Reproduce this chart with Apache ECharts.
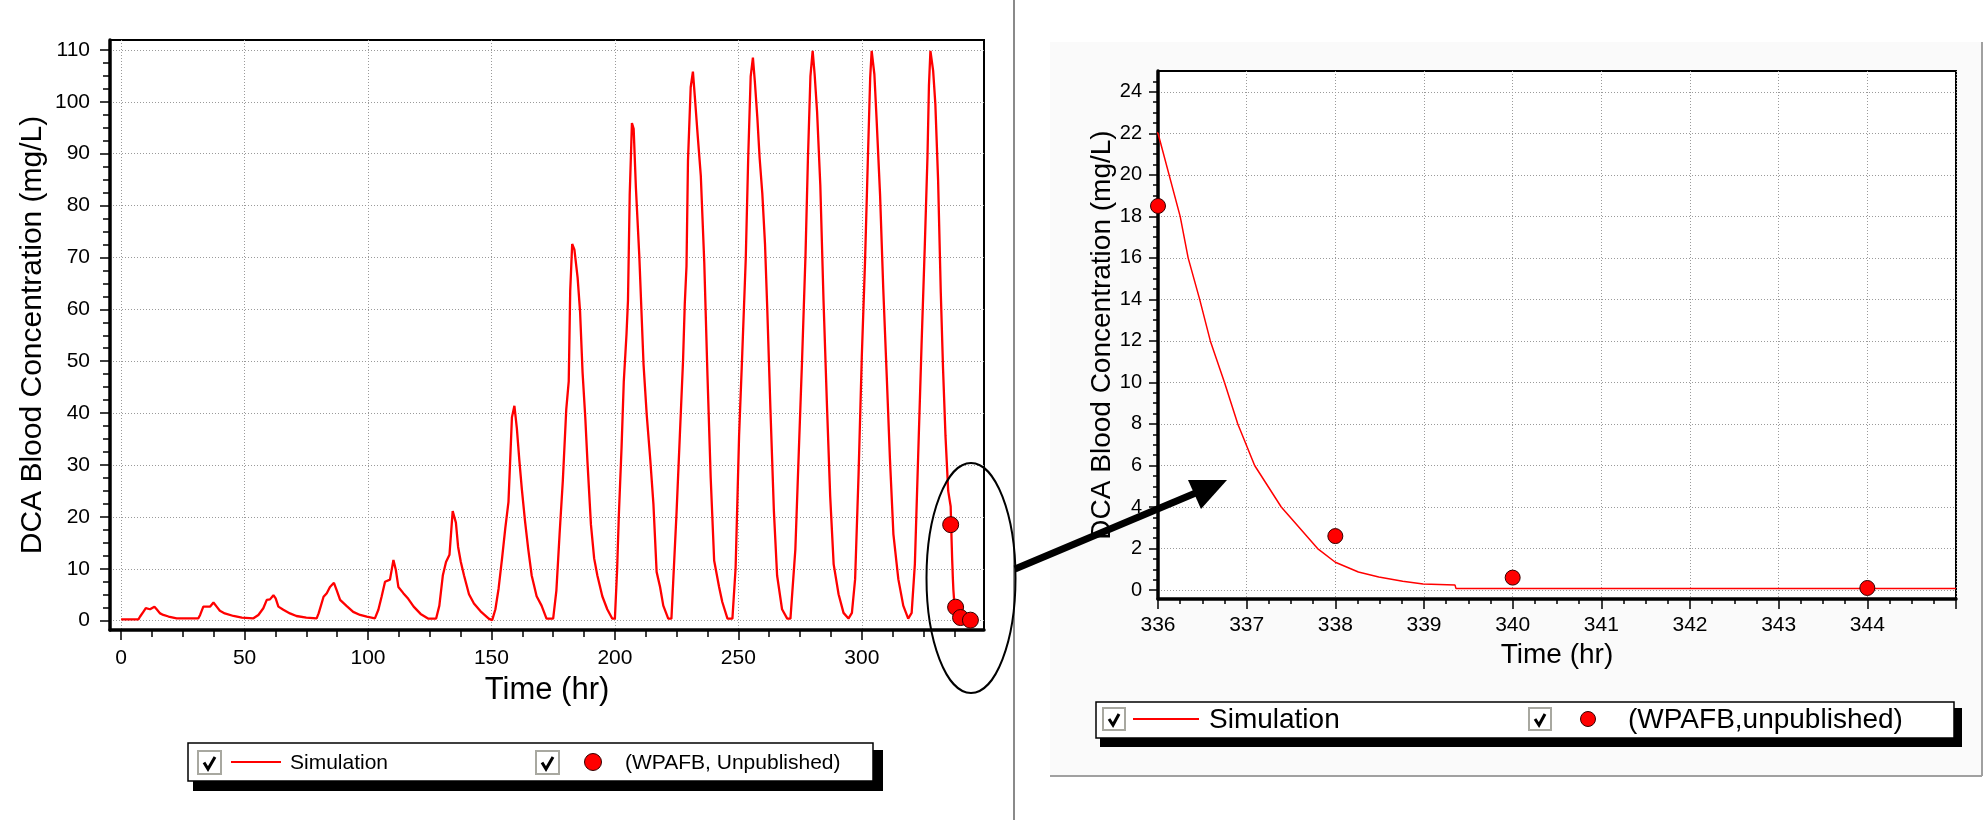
<!DOCTYPE html>
<html><head><meta charset="utf-8">
<script src="https://cdn.jsdelivr.net/npm/echarts@6/dist/echarts.min.js"></script>
<style>html,body{margin:0;padding:0;background:#fff}#c{width:1988px;height:820px}</style>
</head><body><div id="c"></div>
<script>
// ---- data ----
const simTime = [
 0, 7, 7.7, 9, 10, 11.7, 13.5, 14.4, 15.8, 17.1, 19.2, 22.5, 31.3,
 32, 33.3, 36, 37.4, 38.7, 40, 42, 45.5, 48.9, 53.6,
 55.6, 57.6, 59, 60.3, 61.7, 62.6, 63.7, 65.7, 68.4, 71, 75, 79.2,
 80, 82, 83.3, 84.6, 86.2, 87.3, 88.7, 91.4, 94, 96.8, 99.5, 102.8,
 104.2, 105.5, 106.9, 108.9, 110.3, 111.3, 112.3, 114.3, 116.3, 118.5, 121.3, 124.3, 127.6,
 128.9, 130.3, 131.6, 133, 134.3, 135.6, 136.5, 137.6, 138.9, 140.9, 142.9, 145.6, 148.9, 150.3,
 151.6, 152.9, 154.3, 155.6, 156.9, 158.3, 159.3, 160.3, 161.3, 162.3, 163.6, 164.9, 166.3, 168.3, 170.3, 172.3, 175,
 176.3, 177.6, 178.9, 180.3, 181.3, 181.9, 182.7, 183.6, 184.9, 185.9, 186.9, 188, 188.9, 190.3, 191.6, 192.9, 194.9, 196.9, 198.9, 200,
 200.9, 201.6, 202.7, 203.6, 204.7, 205.3, 206, 206.9, 207.6, 208.5, 209.9, 211.6, 212.9, 214.3, 215.6, 216.9, 218.3, 219.6, 221.6, 222.9,
 223.6, 225, 226.3, 227.6, 228.3, 229, 229.6, 230.7, 231.6, 232.5, 233.5, 234.8, 236.2, 237.5, 238.8, 240.2, 242.2, 243.5, 245.6, 247.6,
 248.9, 250.3, 251.6, 253, 254, 255, 255.9, 256.7, 257.7, 258.6, 259.7, 260.8, 261.7, 263, 264.4, 265.7, 267.7, 269.8, 271.1,
 273.1, 274.5, 275.8, 277.2, 278.2, 279.2, 280.1, 280.9, 281.9, 283.2, 284.5, 285.9, 287.2, 288.6, 290.6, 292.6, 294.6, 296,
 297.3, 298.7, 300, 301.3, 302.4, 303.4, 304, 305.1, 306, 307.4, 308.7, 310.1, 311.4, 312.8, 314.8, 316.8, 318.8, 320.2,
 321.5, 322.8, 324.2, 325.5, 326.6, 327.2, 327.8, 328.9, 329.8, 330.9, 332, 332.9, 333.9, 335,
 336, 336.25, 336.34, 336.47, 336.59, 336.75, 336.9, 337.09, 337.39, 337.8, 338, 338.26, 338.49, 338.76, 338.99, 339.35, 339.36, 345
];
const simConc = [
 0.25, 0.25, 0.8, 1.7, 2.4, 2.2, 2.7, 2.2, 1.4, 1.1, 0.8, 0.45, 0.45,
 1.1, 2.7, 2.7, 3.5, 2.7, 1.9, 1.4, 0.9, 0.6, 0.45,
 1.1, 2.4, 4.0, 4.1, 4.9, 4.3, 2.7, 2.1, 1.4, 0.9, 0.6, 0.45,
 1.4, 4.6, 5.3, 6.5, 7.3, 5.9, 4.0, 2.8, 1.7, 1.1, 0.8, 0.45,
 2.1, 4.6, 7.5, 7.9, 11.7, 9.7, 6.5, 5.3, 4.2, 2.7, 1.3, 0.4, 0.4,
 2.9, 8.7, 11.3, 12.7, 21.1, 18.9, 14.2, 11.3, 8.7, 5.1, 3.3, 1.8, 0.4, 0.1,
 2.2, 6.2, 12, 17.8, 22.9, 39.2, 41.4, 37, 30.9, 25.4, 19.2, 13.8, 8.7, 4.7, 2.9, 0.4, 0.4,
 5.8, 16.7, 26.9, 40.7, 46.1, 63.5, 72.6, 71.5, 66.1, 59.5, 47.9, 39.2, 30.5, 18.5, 12, 8.7, 4.7, 2.2, 0.4, 0.4,
 9.8, 20.3, 33.4, 46.1, 55.2, 61.7, 82, 95.9, 94.8, 83.5, 70.1, 49.4, 39.6, 31.2, 22.5, 9.4, 6.5, 2.9, 0.4, 0.4,
 7.3, 21.1, 35.6, 50.1, 61, 68.3, 88.6, 102.8, 105.8, 100.2, 93.7, 85.7, 69, 47.2, 27.6, 11.6, 6.5, 3.6, 0.4, 0.4,
 10.2, 35.6, 51.6, 69.7, 89.3, 104.9, 108.5, 103.8, 96.9, 89.3, 82.4, 72.6, 60.3, 40.7, 21.1, 8.7, 2.2, 0.4, 0.4,
 13.8, 32.7, 50.1, 70.4, 89.3, 104.9, 109.8, 105.3, 98, 83.9, 61.7, 41.4, 24, 10.9, 5.1, 1.5, 0.4, 1.5,
 8, 28.3, 50.8, 69, 87.9, 104.6, 109.8, 105.3, 96.6, 82.1, 63.9, 47.2, 31.2, 16.7, 8, 2.9, 0.4, 1.5,
 10.9, 31.2, 53, 71.9, 89.3, 103.1, 109.8, 106, 99.5, 85, 63.2, 48.7, 35.6, 25,
 22, 18, 16, 14, 12, 10, 8, 6, 4, 2, 1.34, 0.87, 0.63, 0.43, 0.29, 0.24, 0.08, 0.08
];
const obsTime = [336, 338, 340, 344];
const obsConc = [18.5, 2.6, 0.6, 0.1];

// tick labels / tick positions
const leftXLabels = [0, 50, 100, 150, 200, 250, 300];
const leftXMinorTicks = [0, 12.5, 25, 37.5, 50, 62.5, 75, 87.5, 100, 112.5, 125, 137.5, 150, 162.5, 175, 187.5, 200, 212.5, 225, 237.5, 250, 262.5, 275, 287.5, 300, 312.5, 325, 337.5];
const leftYLabels = [0, 10, 20, 30, 40, 50, 60, 70, 80, 90, 100, 110];
const leftYMinorTicks = [0, 2.5, 5, 7.5, 10, 12.5, 15, 17.5, 20, 22.5, 25, 27.5, 30, 32.5, 35, 37.5, 40, 42.5, 45, 47.5, 50, 52.5, 55, 57.5, 60, 62.5, 65, 67.5, 70, 72.5, 75, 77.5, 80, 82.5, 85, 87.5, 90, 92.5, 95, 97.5, 100, 102.5, 105, 107.5, 110];
const rightYLabels = [0, 2, 4, 6, 8, 10, 12, 14, 16, 18, 20, 22, 24];
const rightYMinorTicks = [0, 0.5, 1, 1.5, 2, 2.5, 3, 3.5, 4, 4.5, 5, 5.5, 6, 6.5, 7, 7.5, 8, 8.5, 9, 9.5, 10, 10.5, 11, 11.5, 12, 12.5, 13, 13.5, 14, 14.5, 15, 15.5, 16, 16.5, 17, 17.5, 18, 18.5, 19, 19.5, 20, 20.5, 21, 21.5, 22, 22.5, 23, 23.5, 24, 24.5];

const xTitle = 'Time (hr)';
const yTitle = 'DCA Blood Concentration (mg/L)';
const simName = 'Simulation';
const obsNameLeft = '(WPAFB, Unpublished)';
const obsNameRight = '(WPAFB,unpublished)';

// ---- build ----
const FONT = '"Liberation Sans", Arial, Helvetica, sans-serif';
const simData = simTime.map((t, i) => [t, simConc[i]]);
const obsData = obsTime.map((t, i) => [t, obsConc[i]]);
const GRIDLINE = { color: '#9a9a9a', width: 1, type: [1, 2] };
const TICK = { color: '#000', width: 1.5 };
const AXLINE = { color: '#000', width: 3.5 };

function legend(c) {
  const els = [];
  els.push({ type: 'rect', z: 50, shape: { x: c.sx, y: c.sy, width: c.sw, height: c.sh }, style: { fill: '#000' } });
  els.push({ type: 'rect', z: 51, shape: { x: c.bx, y: c.by, width: c.bw, height: c.bh }, style: { fill: '#fff', stroke: '#000', lineWidth: 1.5 } });
  [c.cb1, c.cb2].forEach(x => {
    els.push({ type: 'rect', z: 52, shape: { x: x, y: c.cby, width: c.cs, height: c.cs }, style: { fill: '#fff', stroke: '#a8a8a0', lineWidth: 2 } });
    els.push({ type: 'polyline', z: 53, shape: { points: [[x + 6, c.cby + c.cs * 0.5], [x + 10, c.cby + c.cs - 5], [x + c.cs - 6, c.cby + 6]] }, style: { stroke: '#000', lineWidth: 3, fill: 'none' } });
  });
  els.push({ type: 'line', z: 52, shape: { x1: c.l1, y1: c.cy, x2: c.l2, y2: c.cy }, style: { stroke: '#ff0000', lineWidth: 2 } });
  els.push({ type: 'circle', z: 52, shape: { cx: c.dx, cy: c.cy, r: c.dr }, style: { fill: '#ff0000', stroke: '#300', lineWidth: 1 } });
  els.push({ type: 'text', z: 52, style: { text: simName, x: c.t1, y: c.cy + 1, font: c.fs + 'px ' + FONT, fill: '#000', textAlign: 'left', textVerticalAlign: 'middle' } });
  els.push({ type: 'text', z: 52, style: { text: c.obsName, x: c.t2, y: c.cy + 1, font: c.fs + 'px ' + FONT, fill: '#000', textAlign: 'left', textVerticalAlign: 'middle' } });
  return els;
}

const graphicEls = [
  { type: 'rect', z: -10, shape: { x: 1050, y: 42, width: 932, height: 734 }, style: { fill: '#fafafa' } },
  { type: 'line', z: -9, shape: { x1: 1050, y1: 776, x2: 1982, y2: 776 }, style: { stroke: '#a0a0a0', lineWidth: 2 } },
  { type: 'line', z: -9, shape: { x1: 1982, y1: 42, x2: 1982, y2: 776 }, style: { stroke: '#a0a0a0', lineWidth: 2 } },
  { type: 'line', z: -9, shape: { x1: 1014, y1: 0, x2: 1014, y2: 820 }, style: { stroke: '#8a8a8a', lineWidth: 2 } },
  { type: 'ellipse', z: 100, shape: { cx: 971, cy: 578, rx: 44.5, ry: 115 }, style: { fill: 'none', stroke: '#000', lineWidth: 2 } },
  { type: 'line', z: 100, shape: { x1: 1015, y1: 569, x2: 1198, y2: 492 }, style: { stroke: '#000', lineWidth: 7 } },
  { type: 'polygon', z: 100, shape: { points: [[1227, 480], [1188, 480], [1201, 509]] }, style: { fill: '#000' } }
].concat(legend({
  sx: 193, sy: 750, sw: 690, sh: 41, bx: 188, by: 743, bw: 685, bh: 38,
  cb1: 198, cb2: 536, cby: 751, cs: 23, cy: 762, l1: 231, l2: 281, dx: 593, dr: 8.5,
  t1: 290, t2: 625, fs: 21, obsName: obsNameLeft
})).concat(legend({
  sx: 1100, sy: 708, sw: 862, sh: 39, bx: 1096, by: 702, bw: 858, bh: 36,
  cb1: 1103, cb2: 1529, cby: 708, cs: 22, cy: 719, l1: 1133, l2: 1199, dx: 1588, dr: 7.5,
  t1: 1209, t2: 1628, fs: 28, obsName: obsNameRight
}));

const chart = echarts.init(document.getElementById('c'), null, { renderer: 'canvas' });
chart.setOption({
  animation: false,
  backgroundColor: '#ffffff',
  textStyle: { fontFamily: FONT },
  grid: [
    { left: 110, top: 40, width: 874, height: 590, show: true, borderColor: '#000', borderWidth: 2, backgroundColor: '#ffffff' },
    { left: 1158, top: 71, width: 798, height: 528, show: true, borderColor: '#000', borderWidth: 2, backgroundColor: '#ffffff' }
  ],
  xAxis: [
    { gridIndex: 0, type: 'value', position: 'bottom', min: -4.5, max: 349.5,
      axisLine: { show: true, onZero: false, lineStyle: AXLINE },
      axisTick: { show: true, customValues: leftXLabels, length: 10, lineStyle: TICK },
      axisLabel: { customValues: leftXLabels, fontSize: 21, color: '#000', margin: 18, fontFamily: FONT },
      splitLine: { show: true, lineStyle: GRIDLINE },
      name: xTitle, nameLocation: 'middle', nameGap: 45,
      nameTextStyle: { fontSize: 31, color: '#000', fontFamily: FONT } },
    { gridIndex: 0, type: 'value', position: 'bottom', min: -4.5, max: 349.5,
      axisLine: { show: false, onZero: false },
      axisTick: { show: true, customValues: leftXMinorTicks, length: 7, lineStyle: TICK },
      axisLabel: { show: false }, splitLine: { show: false } },
    { gridIndex: 1, type: 'value', position: 'bottom', min: 336, max: 345, interval: 1,
      axisLine: { show: true, onZero: false, lineStyle: AXLINE },
      axisTick: { show: true, length: 10, lineStyle: TICK },
      minorTick: { show: true, splitNumber: 4, length: 5, lineStyle: TICK },
      axisLabel: { fontSize: 21, color: '#000', margin: 16, showMaxLabel: false, fontFamily: FONT },
      splitLine: { show: true, lineStyle: GRIDLINE },
      name: xTitle, nameLocation: 'middle', nameGap: 39,
      nameTextStyle: { fontSize: 28, color: '#000', fontFamily: FONT } }
  ],
  yAxis: [
    { gridIndex: 0, type: 'value', position: 'left', min: -1.8, max: 111.9,
      axisLine: { show: true, onZero: false, lineStyle: AXLINE },
      axisTick: { show: true, customValues: leftYLabels, length: 10, lineStyle: TICK },
      axisLabel: { customValues: leftYLabels, fontSize: 21, color: '#000', margin: 20, fontFamily: FONT },
      splitLine: { show: true, lineStyle: GRIDLINE },
      name: yTitle, nameLocation: 'middle', nameGap: 62,
      nameTextStyle: { fontSize: 30, color: '#000', fontFamily: FONT } },
    { gridIndex: 0, type: 'value', position: 'left', min: -1.8, max: 111.9,
      axisLine: { show: false, onZero: false },
      axisTick: { show: true, customValues: leftYMinorTicks, length: 7, lineStyle: TICK },
      axisLabel: { show: false }, splitLine: { show: false } },
    { gridIndex: 1, type: 'value', position: 'left', min: -0.43, max: 25,
      axisLine: { show: true, onZero: false, lineStyle: AXLINE },
      axisTick: { show: true, customValues: rightYLabels, length: 9, lineStyle: TICK },
      axisLabel: { customValues: rightYLabels, fontSize: 20, color: '#000', margin: 16, fontFamily: FONT },
      splitLine: { show: true, lineStyle: GRIDLINE },
      name: yTitle, nameLocation: 'middle', nameGap: 40,
      nameTextStyle: { fontSize: 28, color: '#000', fontFamily: FONT } },
    { gridIndex: 1, type: 'value', position: 'left', min: -0.43, max: 25,
      axisLine: { show: false, onZero: false },
      axisTick: { show: true, customValues: rightYMinorTicks, length: 5, lineStyle: TICK },
      axisLabel: { show: false }, splitLine: { show: false } }
  ],
  series: [
    { type: 'line', name: simName, xAxisIndex: 0, yAxisIndex: 0, data: simData, symbol: 'none', showSymbol: false,
      lineStyle: { color: '#ff0000', width: 2.3 }, itemStyle: { color: '#ff0000' }, z: 3, clip: true },
    { type: 'scatter', name: obsNameLeft, xAxisIndex: 0, yAxisIndex: 0, data: obsData, symbol: 'circle', symbolSize: 16,
      itemStyle: { color: '#ff0000', borderColor: '#300', borderWidth: 1, opacity: 1 }, z: 4 },
    { type: 'line', name: simName, xAxisIndex: 2, yAxisIndex: 2, data: simData, symbol: 'none', showSymbol: false,
      lineStyle: { color: '#ff0000', width: 1.5 }, itemStyle: { color: '#ff0000' }, z: 3, clip: true },
    { type: 'scatter', name: obsNameRight, xAxisIndex: 2, yAxisIndex: 2, data: obsData, symbol: 'circle', symbolSize: 15,
      itemStyle: { color: '#ff0000', borderColor: '#300', borderWidth: 1, opacity: 1 }, z: 4, clip: true }
  ],
  graphic: { elements: graphicEls }
});
</script>
</body></html>
